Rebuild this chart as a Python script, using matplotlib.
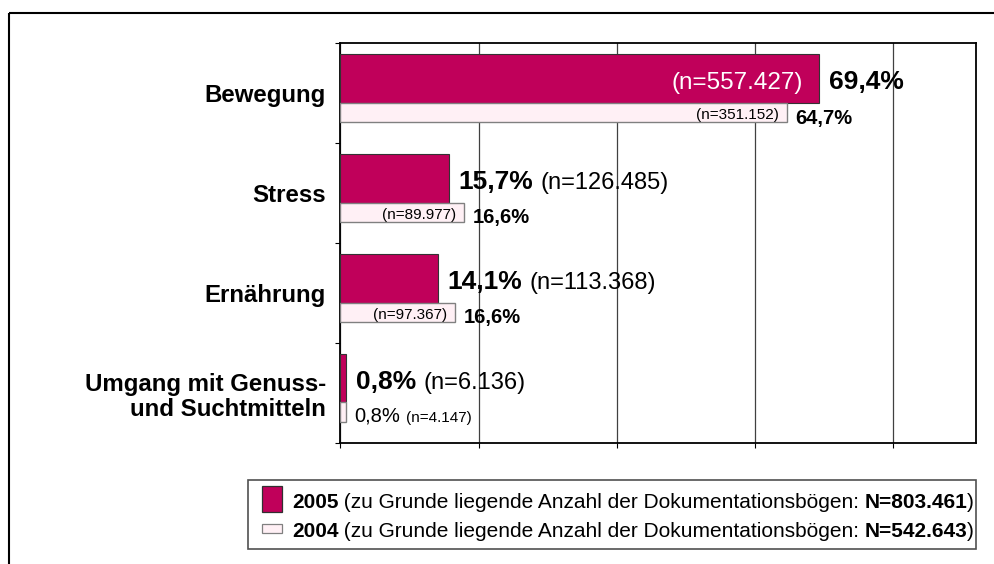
import numpy as np
import matplotlib
matplotlib.use("Agg")
import matplotlib.pyplot as plt
from matplotlib.patches import Rectangle

plt.rcParams['font.family'] = ['Liberation Sans', 'DejaVu Sans']

# ---------------- data ----------------
categories = ["Bewegung", "Stress", "Ernährung", "Umgang mit Genuss-\nund Suchtmitteln"]
pct_2005 = [69.4, 15.7, 14.1, 0.8]          # labelled values 2005
pct_2004 = [64.7, 16.6, 16.6, 0.8]          # labelled values 2004
bar_2004 = [64.7, 17.9, 16.6, 0.8]          # bar lengths 2004 as drawn
n_2005 = ["557.427", "126.485", "113.368", "6.136"]
n_2004 = ["351.152", "89.977", "97.367", "4.147"]
legend_years = ["2005", "2004"]
legend_N = ["803.461", "542.643"]
x_ticks = [0, 20, 40, 60, 80]

C2005 = "#C0005A"
C2004 = "#FFF0F5"

W, H = 995, 564
fig = plt.figure(figsize=(W / 100, H / 100), dpi=100)

left, right, top, bottom = 340.5, 976, 43.3, 443
ax = fig.add_axes([left / W, 1 - bottom / H, (right - left) / W, (bottom - top) / H])

def fmt(v):
    return f"{v:.1f}".replace(".", ",") + "%"

y0 = np.arange(len(categories))
y05 = y0 + 0.352
y04 = y0 + 0.692
ax.barh(y05, pct_2005, height=0.484, color=C2005, edgecolor="#333333", lw=0.8, zorder=3)
ax.barh(y04, bar_2004, height=0.195, color=C2004, edgecolor="#808080", lw=1.0, zorder=3)

ax.set_xlim(0, 92.1)
ax.set_ylim(len(categories), 0)
ax.set_xticks(x_ticks)
ax.set_xticklabels([])
ax.grid(axis="x", color="#404040", lw=0.9)
ax.set_axisbelow(True)
ax.set_yticks(np.arange(len(categories) + 1))
ax.set_yticklabels([])
ax.set_yticks(y0 + 0.5, minor=True)
ax.set_yticklabels(categories, minor=True, fontsize=17.3, fontweight="bold")
for lab in ax.get_yticklabels(minor=True):
    lab.set_multialignment("right")
    lab.set_linespacing(1.12)
ax.tick_params(axis="y", which="minor", length=0, pad=10.4)
ax.tick_params(axis="both", which="major", direction="out", length=3.6, width=0.8, color="black")
for s in ax.spines.values():
    s.set_color("black")
    s.set_linewidth(1.3)

# value labels
for i in range(len(categories)):
    x5 = pct_2005[i]
    x4 = bar_2004[i]
    if i == 0:
        ax.annotate(f"(n={n_2005[i]})", (x5, y05[i]), xytext=(-12, -7.5), textcoords="offset points",
                    ha="right", va="baseline", color="white", fontsize=17.5, zorder=5)
        ax.annotate(fmt(x5), (x5, y05[i]), xytext=(7, -7.5), textcoords="offset points",
                    ha="left", va="baseline", fontsize=19, fontweight="bold", zorder=5)
    else:
        t1 = ax.annotate(fmt(x5), (x5, y05[i]), xytext=(7, -7.5), textcoords="offset points",
                         ha="left", va="baseline", fontsize=19, fontweight="bold", zorder=5)
        ax.annotate(f"(n={n_2005[i]})", xy=(1, y05[i]), xycoords=(t1, "data"),
                    xytext=(5.5, -7.5), textcoords="offset points",
                    ha="left", va="baseline", fontsize=17, zorder=5)
    if i < len(categories) - 1:
        ax.annotate(f"(n={n_2004[i]})", (x4, y04[i]), xytext=(-5.8, -4.5), textcoords="offset points",
                    ha="right", va="baseline", fontsize=11, zorder=5)
        ax.annotate(fmt(pct_2004[i]), (x4, y04[i]), xytext=(6, -8), textcoords="offset points",
                    ha="left", va="baseline", fontsize=14.5, fontweight="bold", zorder=5)
    else:
        t2 = ax.annotate(fmt(pct_2004[i]), (x4, y04[i]), xytext=(6, -7), textcoords="offset points",
                         ha="left", va="baseline", fontsize=14.5, zorder=5)
        ax.annotate(f"(n={n_2004[i]})", xy=(1, y04[i]), xycoords=(t2, "data"),
                    xytext=(4, -7), textcoords="offset points",
                    ha="left", va="baseline", fontsize=11, zorder=5)

# ---------------- overlay in pixel coordinates: frame + legend ----------------
lax = fig.add_axes([0, 0, 1, 1], zorder=10)
lax.set_xlim(0, W)
lax.set_ylim(H, 0)
lax.axis("off")
lax.patch.set_visible(False)

# outer frame (only top/left visible in the picture)
lax.add_patch(Rectangle((9, 13), 1200, 700, fill=False, lw=1.5, ec="black", clip_on=False))

lax.add_patch(Rectangle((247.5, 479.5), 976 - 247.5, 549 - 479.5,
                        fc="white", ec="#505050", lw=1.2))
swatches = [(486, 26, C2005, "#303030"), (524.3, 8.4, C2004, "#808080")]
baselines = [508, 537]
fs = 15.0
for k in range(2):
    sy, sh, fc, ec = swatches[k]
    lax.add_patch(Rectangle((262, sy), 20, sh, fc=fc, ec=ec, lw=0.9))
    yb = baselines[k]
    a = lax.text(292.7, yb, legend_years[k], ha="left", va="baseline",
                 fontsize=fs, fontweight="bold")
    b = lax.annotate(" (zu Grunde liegende Anzahl der Dokumentationsbögen: ", xy=(1, yb),
                     xycoords=(a, "data"), xytext=(-1, 0), textcoords="offset points",
                     ha="left", va="baseline", fontsize=fs)
    c = lax.annotate(f"N={legend_N[k]}", xy=(1, yb), xycoords=(b, "data"),
                     ha="left", va="baseline", fontsize=fs, fontweight="bold")
    lax.annotate(")", xy=(1, yb), xycoords=(c, "data"),
                 ha="left", va="baseline", fontsize=fs)

fig.savefig("out.png", dpi=100)
